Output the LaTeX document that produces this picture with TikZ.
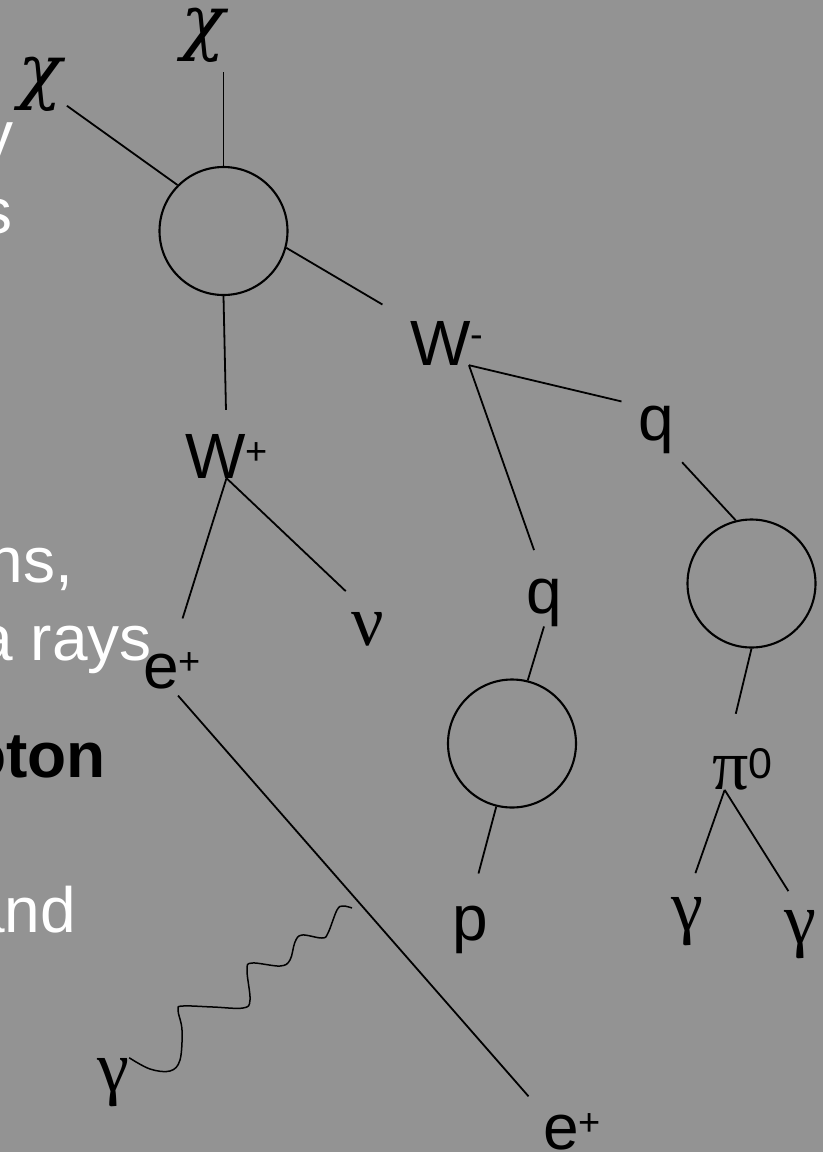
\documentclass[tikz,border=0pt]{standalone}
\usepackage{fontspec}
\setmainfont{Liberation Sans}
\newfontfamily\greek{Liberation Serif}
\newfontfamily\chifont{DejaVu Serif}
\definecolor{slidegray}{RGB}{147,147,147}
% raised charge sign, set in the text font
\newcommand{\up}[2][14pt]{\raisebox{#1}{\normalfont\fontsize{38}{38}\selectfont #2}}

\begin{document}
\begin{tikzpicture}[x=1pt, y=-1pt,
  lbl/.style={inner sep=0pt, anchor=base west, font=\fontsize{64}{64}\selectfont},
  grk/.style={inner sep=0pt, anchor=base west, font=\fontsize{72}{72}\selectfont\greek},
  chi/.style={inner sep=0pt, anchor=base west, font=\fontsize{72}{72}\selectfont\chifont\itshape},
  slide/.style={inner sep=0pt, anchor=base east, text=white, font=\fontsize{64}{64}\selectfont},
  blob/.style={circle, draw, line width=2.1pt, minimum size=128pt, inner sep=0pt},
  prop/.style={line width=1.8pt},
  photon/.style={line width=1.5pt}
]
\useasboundingbox (0,0) rectangle (823,1152);
\fill[slidegray] (0,0) rectangle (823,1152);

% slide text running in from the left
\node[slide] (fragy) at (14,156) {y};
\node[slide] (frags) at (13,233) {s};
\node[slide] (fragns) at (73,582) {ns,};
\node[slide] (fragrays) at (152,660) {a rays};
\node[slide, text=black, font=\fontsize{64}{64}\selectfont\bfseries] (fragoton) at (106,777) {oton};
\node[slide] (fragand) at (76,932) {and};

% annihilation and hadronisation blobs
\node[blob] (blob1) at (223.5,231) {};
\node[blob] (blob2) at (751.5,583.5) {};
\node[blob] (blob3) at (512,743.5) {};

% particles
\node[chi] (chitop) at (181,46) {χ};
\node[chi] (chileft) at (18,95) {χ};
\node[lbl] (wplus) at (185,478) {W\up{+}};
\node[lbl] (wminus) at (410,365) {W\up[18pt]{-}};
\node[lbl] (qb) at (638,440) {q};
\node[lbl] (qa) at (526,613) {q};
\node[lbl] (pout) at (452,940) {p};
\node[lbl] (eplus) at (143,688) {e\up{+}};
\node[lbl] (eplusb) at (543,1149) {e\up{+}};
\node[grk] (nu) at (351,645) {ν};
\node[grk] (pizero) at (712,789) {π\raisebox{11pt}{\normalfont\fontsize{43}{43}\selectfont 0}};
\node[grk] (gl) at (671,930) {γ};
\node[grk] (gr) at (784,943) {γ};
\node[grk] (gph) at (97,1091) {γ};
\coordinate (vtx) at (352,908);

% lines
\draw[prop, shorten >=10pt] (blob1.north) -- (blob1.north |- chitop.south);
\draw[prop, shorten <=6pt] (chileft.-40) -- (blob1.135);
\draw[prop, shorten >=32pt] (blob1.-15) -- (wminus.north west);
\draw[prop, shorten >=24pt] (blob1.south) -- (wplus.north);
\draw[prop, shorten >=35pt] (wplus.south) -- (eplus.north);
\draw[prop, shorten >=30pt] (wplus.south) -- (nu.north);
\draw[prop, shorten >=30pt] (wminus.-45) -- (qa.north);
\draw[prop, shorten >=17pt] (wminus.-45) -- (qb.north west);
\draw[prop, shorten <=12pt] (qb.south east) -- (blob2.104);
\draw[prop, shorten >=35pt] (blob2.south) -- (pizero.125);
\draw[prop, shorten >=25pt] (pizero.-130) -- (gl.north);
\draw[prop, shorten >=22pt] (pizero.-130) -- (gr.north);
\draw[prop] (qa.south) -- (blob3.76);
\draw[prop, shorten >=33pt] (blob3.-104) -- (pout.north);
\draw[prop, shorten <=9pt, shorten >=22pt] (eplus.south) -- (eplusb.north west);

% radiated photon
\draw[photon] plot[smooth, tension=.6] coordinates {(gph.north east) (150,1069) (170,1071) (180,1060)
  (182,1030) (178,1010) (183,1006) (213,1007) (243,1008) (250,1000) (247,970) (252,963)
  (280,966) (290,960) (295,942) (302,935) (322,938) (328,933) (337,910) (343,906) (vtx)};
\end{tikzpicture}
\end{document}
